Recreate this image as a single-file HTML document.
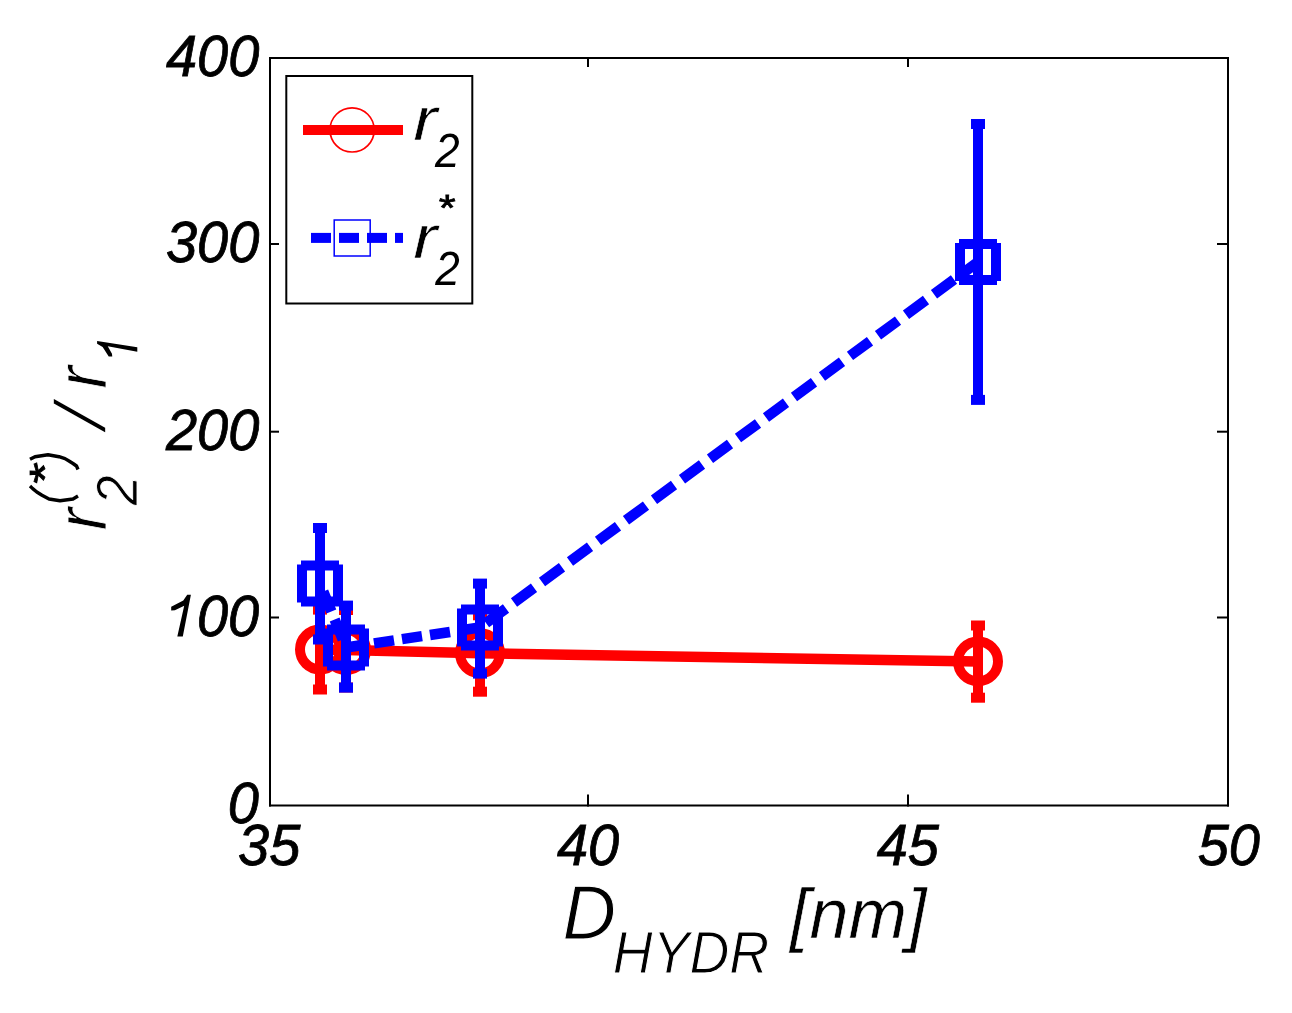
<!DOCTYPE html>
<html><head><meta charset="utf-8"><style>html,body{margin:0;padding:0;background:#fff;overflow:hidden}svg{display:block;will-change:transform}</style></head>
<body><svg width="1292" height="1013" viewBox="0 0 1292 1013"><rect width="1292" height="1013" fill="#fff"/><rect x="315.00" y="609.60" width="10.00" height="79.90" fill="#ff0000"/><rect x="313.00" y="604.60" width="14.00" height="10.00" fill="#ff0000"/><rect x="313.00" y="684.50" width="14.00" height="10.00" fill="#ff0000"/><rect x="341.00" y="610.00" width="10.00" height="77.50" fill="#ff0000"/><rect x="339.00" y="605.00" width="14.00" height="10.00" fill="#ff0000"/><rect x="339.00" y="682.50" width="14.00" height="10.00" fill="#ff0000"/><rect x="475.00" y="615.30" width="10.00" height="76.40" fill="#ff0000"/><rect x="473.00" y="610.30" width="14.00" height="10.00" fill="#ff0000"/><rect x="473.00" y="686.70" width="14.00" height="10.00" fill="#ff0000"/><rect x="973.00" y="625.50" width="10.00" height="72.20" fill="#ff0000"/><rect x="971.00" y="620.50" width="14.00" height="10.00" fill="#ff0000"/><rect x="971.00" y="692.70" width="14.00" height="10.00" fill="#ff0000"/><path d="M320,649.5 L346,650 L480,653.3 L978,661.4" fill="none" stroke="#ff0000" stroke-width="10.5" stroke-linejoin="round"/><circle cx="320" cy="649.5" r="20" fill="none" stroke="#ff0000" stroke-width="10"/><circle cx="346" cy="650" r="20" fill="none" stroke="#ff0000" stroke-width="10"/><circle cx="480" cy="653.3" r="20" fill="none" stroke="#ff0000" stroke-width="10"/><circle cx="978" cy="661.4" r="20" fill="none" stroke="#ff0000" stroke-width="10"/><rect x="315.00" y="528.00" width="10.00" height="111.50" fill="#0000ff"/><rect x="313.00" y="523.00" width="14.00" height="10.00" fill="#0000ff"/><rect x="313.00" y="634.50" width="14.00" height="10.00" fill="#0000ff"/><rect x="341.00" y="605.60" width="10.00" height="82.00" fill="#0000ff"/><rect x="339.00" y="600.60" width="14.00" height="10.00" fill="#0000ff"/><rect x="339.00" y="682.60" width="14.00" height="10.00" fill="#0000ff"/><rect x="475.00" y="583.60" width="10.00" height="90.00" fill="#0000ff"/><rect x="473.00" y="578.60" width="14.00" height="10.00" fill="#0000ff"/><rect x="473.00" y="668.60" width="14.00" height="10.00" fill="#0000ff"/><rect x="973.00" y="124.00" width="10.00" height="275.90" fill="#0000ff"/><rect x="971.00" y="119.00" width="14.00" height="10.00" fill="#0000ff"/><rect x="971.00" y="394.90" width="14.00" height="10.00" fill="#0000ff"/><path d="M320,583.5 L346,647.5" fill="none" stroke="#0000ff" stroke-width="10.5" stroke-dasharray="21.587 8.635" stroke-dashoffset="21.587"/><path d="M346,647.5 L480,627.5" fill="none" stroke="#0000ff" stroke-width="10.5" stroke-dasharray="20.222 8.089" stroke-dashoffset="0.000"/><path d="M480,627.5 L978,261.9" fill="none" stroke="#0000ff" stroke-width="10.5" stroke-dasharray="24.811 9.924" stroke-dashoffset="27.292"/><path d="M301,560.5 H339 V564.5 H343 V602.5 H339 V606.5 H301 V602.5 H297 V564.5 H301 Z M307,570.5 V596.5 H333 V570.5 Z" fill="#0000ff" fill-rule="evenodd"/><path d="M327,624.5 H365 V628.5 H369 V666.5 H365 V670.5 H327 V666.5 H323 V628.5 H327 Z M333,634.5 V660.5 H359 V634.5 Z" fill="#0000ff" fill-rule="evenodd"/><path d="M461,604.5 H499 V608.5 H503 V646.5 H499 V650.5 H461 V646.5 H457 V608.5 H461 Z M467,614.5 V640.5 H493 V614.5 Z" fill="#0000ff" fill-rule="evenodd"/><path d="M959,238.89999999999998 H997 V242.89999999999998 H1001 V280.9 H997 V284.9 H959 V280.9 H955 V242.89999999999998 H959 Z M965,248.89999999999998 V274.9 H991 V248.89999999999998 Z" fill="#0000ff" fill-rule="evenodd"/><rect x="269.00" y="57.00" width="960.00" height="2.00" fill="#000"/><rect x="269.00" y="804.50" width="960.00" height="2.00" fill="#000"/><rect x="269.00" y="57.00" width="2.00" height="749.50" fill="#000"/><rect x="1227.00" y="57.00" width="2.00" height="749.50" fill="#000"/><rect x="587.00" y="794.50" width="2.00" height="12.00" fill="#000"/><rect x="587.00" y="57.00" width="2.00" height="10.00" fill="#000"/><rect x="907.00" y="794.50" width="2.00" height="12.00" fill="#000"/><rect x="907.00" y="57.00" width="2.00" height="10.00" fill="#000"/><rect x="269.00" y="243.00" width="10.00" height="2.00" fill="#000"/><rect x="1217.00" y="243.00" width="12.00" height="2.00" fill="#000"/><rect x="269.00" y="430.70" width="10.00" height="2.00" fill="#000"/><rect x="1217.00" y="430.70" width="12.00" height="2.00" fill="#000"/><rect x="269.00" y="616.50" width="10.00" height="2.00" fill="#000"/><rect x="1217.00" y="616.50" width="12.00" height="2.00" fill="#000"/><g font-family="Liberation Sans" font-style="italic" fill="#000" stroke="#000" stroke-width="0.8"><text transform="translate(238.10,865.31) scale(0.9650,1)" font-size="58.00">35</text><text transform="translate(556.94,865.11) scale(0.9650,1)" font-size="58.00">40</text><text transform="translate(876.66,864.82) scale(0.9650,1)" font-size="58.00">45</text><text transform="translate(1197.71,865.11) scale(0.9650,1)" font-size="58.00">50</text><text transform="translate(165.89,75.91) scale(0.9650,1)" font-size="58.00">400</text><text transform="translate(165.89,261.86) scale(0.9650,1)" font-size="58.00">300</text><text transform="translate(165.89,449.81) scale(0.9650,1)" font-size="58.00">200</text><text transform="translate(227.82,823.46) scale(0.9650,1)" font-size="58.00">0</text><text transform="translate(196.93,635.61) scale(0.9650,1)" font-size="58.00">00</text></g><path d="M177.31,636.60 L182.80,636.60 L190.90,594.70 L187.20,594.70 L183.30,600.48 L171.20,606.81 L171.20,610.50 L174.90,610.20 L184.20,605.80 Z" fill="#000" stroke="none"/><rect x="286.3" y="76" width="186" height="227.5" fill="#fff" stroke="#000" stroke-width="2"/><rect x="303.00" y="125.00" width="100.00" height="10.00" fill="#ff0000"/><circle cx="352.1" cy="129.9" r="22.1" fill="none" stroke="#ff0000" stroke-width="1.7"/><rect x="311.00" y="232.90" width="20.00" height="10.00" fill="#0000ff"/><rect x="339.00" y="232.90" width="20.00" height="10.00" fill="#0000ff"/><rect x="367.00" y="232.90" width="20.00" height="10.00" fill="#0000ff"/><rect x="395.00" y="232.90" width="8.00" height="10.00" fill="#0000ff"/><rect x="334.2" y="220" width="36" height="36" fill="none" stroke="#0000ff" stroke-width="1.5"/><g font-family="Liberation Sans" font-style="italic" fill="#000" stroke="#000" stroke-width="0.8"><text transform="translate(413.30,139.56) scale(1.1909,1)" font-size="60.75" stroke="#fff" stroke-width="0.5">r</text><text transform="translate(435.00,166.80) scale(0.9166,1)" font-size="48.29" stroke="none">2</text><text transform="translate(413.31,257.66) scale(1.1787,1)" font-size="61.13" stroke="#fff" stroke-width="0.5">r</text><text transform="translate(435.20,284.60) scale(0.9101,1)" font-size="48.43" stroke="none">2</text><text transform="translate(437.01,220.83) scale(1.1705,1)" font-size="36.86">*</text><text transform="translate(562.38,938.55) scale(0.9655,1)" font-size="76.74" stroke="#fff" stroke-width="1">D</text><text transform="translate(612.84,972.70) scale(0.9312,1)" font-size="59.28" stroke="#fff" stroke-width="1">HYDR</text><text transform="translate(790.01,937.51) scale(0.9975,1)" font-size="70.43" stroke="#fff" stroke-width="0.6">[nm]</text><text transform="translate(106.13,530.34) rotate(-90) scale(0.9167,1)" font-size="72.83" stroke="#fff" stroke-width="0.8">r</text><text transform="translate(137.30,505.30) rotate(-90) scale(0.9268,1)" font-size="58.14" stroke="#fff" stroke-width="0.8">2</text><text transform="translate(59.47,485.93) rotate(-90) scale(1.2763,1)" font-size="43.43">*</text><text transform="translate(105.70,429.06) rotate(-90) scale(1.1870,1)" font-size="73.15" stroke="#fff" stroke-width="1.6">/</text><text transform="translate(106.02,388.44) rotate(-90) scale(0.9256,1)" font-size="72.45" stroke="#fff" stroke-width="0.8">r</text><path d="M137.30,351.73 L137.30,347.35 L97.10,340.90 L97.10,343.85 L102.65,346.96 L108.72,356.60 L112.26,356.60 L111.97,353.65 L107.75,346.24 Z" fill="#000" stroke="none"/></g><path d="M30,459.3 L35,456.7 L48,454.8 L59,456.7 L65,458.6 L69,461 L73,463.5 L76.5,466 L78,469.5" fill="none" stroke="#000" stroke-width="3.4" stroke-linejoin="round"/><path d="M30,486 L32.7,488.6 L36.8,492 L42,495.2 L49,499 L60,500.8 L73,499 L78,496" fill="none" stroke="#000" stroke-width="3.4" stroke-linejoin="round"/></svg></body></html>
